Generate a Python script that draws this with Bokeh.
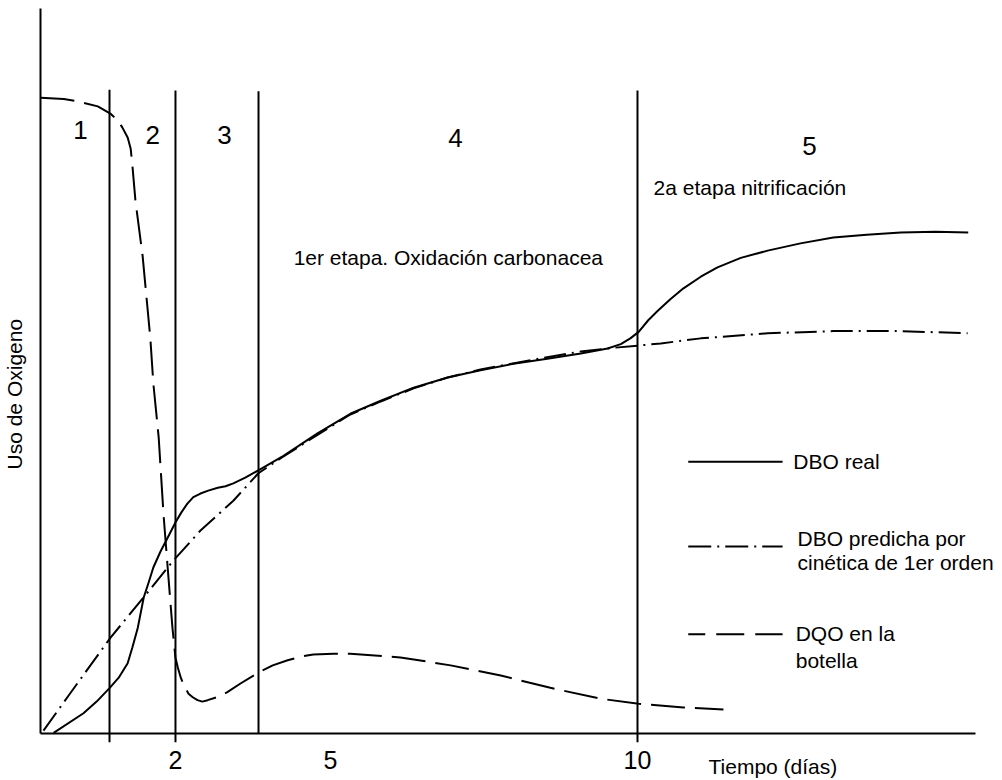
import math
from bokeh.plotting import figure
from bokeh.models import Range1d, FixedTicker
from bokeh.core.properties import value
from bokeh.embed import file_html
from bokeh.resources import INLINE

FONT = "Liberation Sans"

# ---- data (schematic time in days, oxygen use in relative units 0-100) ----
dbo_real_t = [0.22, 0.72, 0.94, 1.16, 1.31, 1.46, 1.54, 1.63, 1.73, 1.81, 1.89, 2.01, 2.13, 2.26,
              2.36, 2.46, 2.56, 2.68, 2.81, 2.97, 3.10, 3.23, 3.43, 3.65, 4.07, 4.64, 5.19, 5.70,
              6.25, 6.82, 7.37, 7.92, 8.49, 9.05, 9.50, 9.72, 9.88, 10.02, 10.18, 10.34, 10.55,
              10.77, 11.06, 11.34, 11.73, 12.18, 12.73, 13.28, 13.84, 14.41, 14.99, 15.54]
dbo_real_v = [0.1, 2.8, 4.4, 6.3, 7.7, 9.7, 11.9, 14.6, 18.8, 20.8, 22.9, 25.1, 27.0, 29.1,
              30.5, 31.7, 32.6, 33.1, 33.5, 33.9, 34.1, 34.5, 35.3, 36.3, 38.3, 41.4, 44.1, 45.9,
              47.7, 49.1, 50.1, 51.0, 51.7, 52.4, 53.1, 53.7, 54.5, 55.4, 57.0, 58.3, 59.9,
              61.4, 63.0, 64.3, 65.6, 66.6, 67.6, 68.4, 68.8, 69.1, 69.2, 69.1]

dbo_pred_t = [0.05, 0.45, 1.17, 1.73, 2.23, 2.68, 3.23, 3.65, 4.05, 4.64, 5.19, 5.70, 6.25,
              6.82, 7.37, 8.21, 9.05, 9.60, 10.0, 10.39, 11.06, 12.18, 13.28, 14.41, 15.53]
dbo_pred_v = [0.4, 5.0, 13.2, 18.8, 23.9, 28.0, 32.1, 35.9, 38.1, 41.2, 44.0, 45.8, 47.6,
              49.1, 50.2, 51.5, 52.7, 53.2, 53.5, 53.8, 54.5, 55.2, 55.5, 55.5, 55.2]

dqo_t = [0.0, 0.39, 0.62, 0.96, 1.17, 1.29, 1.37, 1.46, 1.51, 1.54, 1.59, 1.71, 1.84, 1.89,
         1.98, 2.06, 2.13, 2.21, 2.26, 2.30, 2.35, 2.41, 2.48, 2.55, 2.63, 2.71, 2.80, 2.95,
         3.13, 3.35, 3.65, 3.89, 4.14, 4.36, 4.57, 4.91, 5.19, 6.03, 6.87, 7.71, 8.54, 9.38,
         10.02, 10.77, 11.44]
dqo_v = [87.7, 87.5, 87.2, 86.5, 85.5, 84.6, 83.6, 82.2, 80.7, 78.3, 73.5, 65.9, 54.5, 48.3,
         40.8, 30.3, 22.9, 14.6, 10.5, 9.1, 7.7, 6.5, 5.5, 5.0, 4.6, 4.4, 4.6, 5.0,
         5.7, 6.9, 8.4, 9.4, 10.1, 10.6, 10.9, 11.0, 11.0, 10.5, 9.4, 8.0, 6.3, 4.8,
         4.1, 3.6, 3.3]

# stage boundaries
stage_t = [1.156, 2.261, 3.652, 10.0]
stage_top = [88.8, 88.7, 88.6, 88.7]
stage_bottom = [-1.2, -1.2, 0.0, -1.2]

# stage numbers
stage_num_t = [0.67, 1.88, 3.08, 6.95, 12.88]
stage_num_v = [83.3, 82.5, 82.5, 82.1, 81.1]
stage_num = ["1", "2", "3", "4", "5"]

# tick labels
tick_pos = [2.261, 4.858, 10.0]
tick_lab = ["2", "5", "10"]

# annotations
note_t = [4.24, 10.27]
note_v = [65.7, 75.3]
note_txt = ["1er etapa. Oxidación carbonacea", "2a etapa nitrificación"]

# legend
leg_x0 = 10.85
leg_x1 = 12.43
leg_line_v = [37.5, 25.8, 13.7]
leg_txt_t = [12.61, 12.68, 12.68, 12.65, 12.65]
leg_txt_v = [37.5, 26.9, 23.6, 13.8, 10.1]
leg_txt = ["DBO real", "DBO predicha por", "cinética de 1er orden", "DQO en la", "botella"]

x_label = "Tiempo (días)"
x_label_pos = (11.19, -4.55)
y_label = "Uso de Oxigeno"
y_label_pos = (-0.44, 46.8)

# ---- figure ----
p = figure(width=1002, height=780, x_range=Range1d(-0.67, 16.114), y_range=Range1d(-6.48, 101.1),
           output_backend="svg", toolbar_location=None, min_border=0)
p.outline_line_color = None
p.grid.visible = False
p.background_fill_color = "white"

for ax in (p.xaxis[0], p.yaxis[0]):
    ax.fixed_location = 0
    ax.axis_line_width = 2
    ax.axis_line_color = "black"
    ax.major_tick_out = 0
    ax.major_tick_in = 0
    ax.minor_tick_out = 0
    ax.minor_tick_in = 0
p.xaxis.bounds = (0, 15.66)
p.yaxis.bounds = (0, 100)
p.xaxis.ticker = FixedTicker(ticks=tick_pos, minor_ticks=[])
p.xaxis.major_label_overrides = {t: l for t, l in zip(tick_pos, tick_lab)}
p.xaxis.major_label_text_font = FONT
p.xaxis.major_label_text_font_size = "25px"
p.xaxis.major_label_text_color = "black"
p.xaxis.major_label_standoff = 17
p.yaxis.ticker = FixedTicker(ticks=[], minor_ticks=[])

# stage lines
p.segment(x0=stage_t, x1=stage_t, y0=stage_bottom, y1=stage_top, line_color="black", line_width=2)

# curves
p.line(dbo_real_t, dbo_real_v, line_color="black", line_width=2, line_join="round")
p.line(dbo_pred_t, dbo_pred_v, line_color="black", line_width=2, line_dash="22 6 2 6")
p.line(dqo_t, dqo_v, line_color="black", line_width=2, line_dash="34 10", line_join="round")

# legend lines
p.segment(x0=[leg_x0], x1=[leg_x1], y0=[leg_line_v[0]], y1=[leg_line_v[0]], line_color="black", line_width=2)
p.segment(x0=[leg_x0], x1=[leg_x1], y0=[leg_line_v[1]], y1=[leg_line_v[1]], line_color="black", line_width=2,
          line_dash="23 6 2 6")
p.segment(x0=[leg_x0], x1=[leg_x1], y0=[leg_line_v[2]], y1=[leg_line_v[2]], line_color="black", line_width=2,
          line_dash="28 11", line_dash_offset=11)

# texts
p.text(x=stage_num_t, y=stage_num_v, text=stage_num, text_font=value(FONT), text_font_size=value("26px"),
       text_align="center", text_baseline="middle", text_color="black")
p.text(x=note_t, y=note_v, text=note_txt, text_font=value(FONT), text_font_size=value("21px"),
       text_align="left", text_baseline="middle", text_color="black")
p.text(x=leg_txt_t, y=leg_txt_v, text=leg_txt, text_font=value(FONT), text_font_size=value("21px"),
       text_align="left", text_baseline="middle", text_color="black")
p.text(x=[x_label_pos[0]], y=[x_label_pos[1]], text=[x_label], text_font=value(FONT), text_font_size=value("21px"),
       text_align="left", text_baseline="middle", text_color="black")
p.text(x=[y_label_pos[0]], y=[y_label_pos[1]], text=[y_label], text_font=value(FONT), text_font_size=value("21px"),
       text_align="center", text_baseline="middle", text_color="black", angle=math.pi / 2)

open("out.html", "w").write(file_html(p, INLINE))
